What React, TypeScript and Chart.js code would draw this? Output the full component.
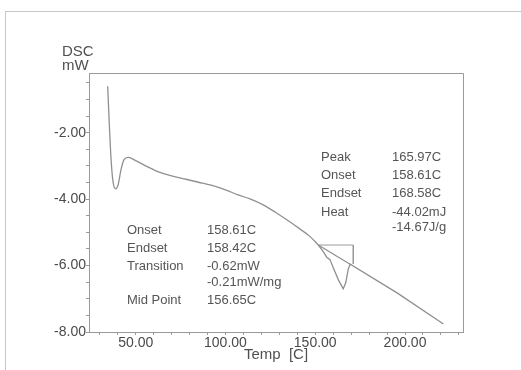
import React, { useEffect, useRef } from "react";
import { Chart, registerables } from "chart.js";

Chart.register(...registerables);

// DSC curve, smooth part (Temp in C, DSC in mW)
const temps = [34.4, 35.2, 36.3, 37.4, 38.9, 40.2, 41.8, 43.5, 45.9, 50, 55, 62, 70, 78, 85, 92, 100, 107, 114, 121, 128, 135, 141, 147, 151.7];
const dsc = [-0.60, -1.61, -2.81, -3.48, -3.69, -3.57, -3.12, -2.81, -2.74, -2.84, -2.98, -3.16, -3.30, -3.40, -3.49, -3.58, -3.72, -3.87, -4.00, -4.17, -4.40, -4.65, -4.88, -5.12, -5.38];

// DSC curve, melting peak and tail
const peakTemps = [151.7, 154.6, 156.3, 158.2, 160.1, 162.9, 165.6, 167.0, 168.4, 169.5, 195.8, 221.4];
const peakDsc = [-5.38, -5.59, -5.74, -5.82, -6.07, -6.43, -6.70, -6.52, -6.10, -5.96, -6.83, -7.76];

// Peak baseline
const baseTemps = [151.7, 170.1];
const baseValues = [-5.38, -5.98];

// Analysis bracket
const bracketTemps = [151.7, 171.2, 171.2];
const bracketValues = [-5.38, -5.38, -5.95];

// Axis ticks
const xTickValues = [30, 40, 50, 60, 70, 80, 90, 100, 110, 120, 130, 140, 150, 160, 170, 180, 190, 200, 210, 220, 230];
const xLabelValues = [50, 100, 150, 200];
const yTickValues = [-8, -7.5, -7, -6.5, -6, -5.5, -5, -4.5, -4, -3.5, -3, -2.5, -2, -1.5, -1, -0.5];
const yLabelValues = [-8, -6, -4, -2];

// Result tables
const peakLabels = ["Peak", "Onset", "Endset", "Heat", ""];
const peakValues = ["165.97C", "158.61C", "168.58C", "-44.02mJ", "-14.67J/g"];
const transLabels = ["Onset", "Endset", "Transition", "", "Mid Point"];
const transValues = ["158.61C", "158.42C", "-0.62mW", "-0.21mW/mg", "156.65C"];

const FONT = "'Liberation Sans', Arial, sans-serif";

const overlay = {
  id: "overlay",
  afterDraw(chart: any) {
    const { ctx, chartArea } = chart;
    ctx.save();
    ctx.strokeStyle = "#9a9a9a";
    ctx.lineWidth = 1;
    ctx.beginPath();
    ctx.moveTo(chartArea.left, chartArea.top + 0.5);
    ctx.lineTo(chartArea.right + 0.5, chartArea.top + 0.5);
    ctx.lineTo(chartArea.right + 0.5, chartArea.bottom);
    ctx.stroke();

    ctx.fillStyle = "#505050";
    ctx.textBaseline = "middle";
    ctx.textAlign = "left";
    ctx.font = `15px ${FONT}`;
    ctx.fillText("DSC", 62, 52);
    ctx.fillText("mW", 62, 66);
    ctx.textAlign = "center";
    ctx.fillText("Temp  [C]", (chartArea.left + chartArea.right) / 2, 355);

    ctx.textAlign = "left";
    ctx.font = `13px ${FONT}`;
    ctx.fillStyle = "#555";
    const rRows = [157, 175, 193, 212, 227];
    peakLabels.forEach((t, i) => {
      if (t) ctx.fillText(t, 321, rRows[i]);
      ctx.fillText(peakValues[i], 392, rRows[i]);
    });
    const lRows = [230, 248, 266, 282, 300];
    transLabels.forEach((t, i) => {
      if (t) ctx.fillText(t, 127, lRows[i]);
      ctx.fillText(transValues[i], 207, lRows[i]);
    });
    ctx.restore();
  },
};

export default function App() {
  const ref = useRef<HTMLCanvasElement>(null);
  useEffect(() => {
    if (!ref.current) return;
    const line = (xs: number[], ys: number[]) => xs.map((x, i) => ({ x, y: ys[i] }));
    const chart = new Chart(ref.current, {
      type: "scatter",
      data: {
        datasets: [
          { data: line(temps, dsc), showLine: true, borderColor: "#909090", borderWidth: 1.3, pointRadius: 0, cubicInterpolationMode: "monotone" },
          { data: line(peakTemps, peakDsc), showLine: true, borderColor: "#909090", borderWidth: 1.3, pointRadius: 0, tension: 0 },
          { data: line(baseTemps, baseValues), showLine: true, borderColor: "#8c8c8c", borderWidth: 1.1, pointRadius: 0 },
          { data: line(bracketTemps, bracketValues), showLine: true, borderColor: "#9a9a9a", borderWidth: 1, pointRadius: 0 },
        ],
      },
      options: {
        animation: false,
        responsive: true,
        maintainAspectRatio: false,
        layout: { padding: { top: 73, right: 58, left: 0, bottom: 0 } },
        plugins: { legend: { display: false }, tooltip: { enabled: false } },
        scales: {
          x: {
            type: "linear",
            min: 24,
            max: 232.3,
            afterBuildTicks: (s: any) => { s.ticks = xTickValues.map((v) => ({ value: v })); },
            afterFit: (s: any) => { s.height = 38; },
            grid: { drawOnChartArea: false, drawTicks: true, tickLength: 3, color: "#9a9a9a" },
            border: { color: "#9a9a9a" },
            ticks: {
              autoSkip: false,
              maxRotation: 0,
              padding: 0,
              color: "#4a4a4a",
              font: { family: FONT, size: 14 },
              callback: (v: any) => (xLabelValues.includes(v) ? Number(v).toFixed(2) : ""),
            },
          },
          y: {
            type: "linear",
            min: -8,
            max: -0.2,
            afterBuildTicks: (s: any) => { s.ticks = yTickValues.map((v) => ({ value: v })); },
            afterFit: (s: any) => { s.width = 89; },
            grid: { drawOnChartArea: false, drawTicks: true, tickLength: 3, color: "#9a9a9a" },
            border: { color: "#9a9a9a" },
            ticks: {
              autoSkip: false,
              padding: 0,
              color: "#4a4a4a",
              font: { family: FONT, size: 14 },
              callback: (v: any) => (yLabelValues.includes(v) ? Number(v).toFixed(2) : ""),
            },
          },
        },
      },
      plugins: [overlay],
    });
    return () => chart.destroy();
  }, []);
  return (
    <div style={{ position: "fixed", left: 0, top: 0, width: 521, height: 370, background: "#fff" }}>
      <div style={{ position: "absolute", left: 5, top: 11, right: 0, bottom: 0, borderLeft: "1px solid #c8c8c8", borderTop: "1px solid #c8c8c8" }} />
      <canvas ref={ref} style={{ position: "absolute", left: 0, top: 0 }} />
    </div>
  );
}
